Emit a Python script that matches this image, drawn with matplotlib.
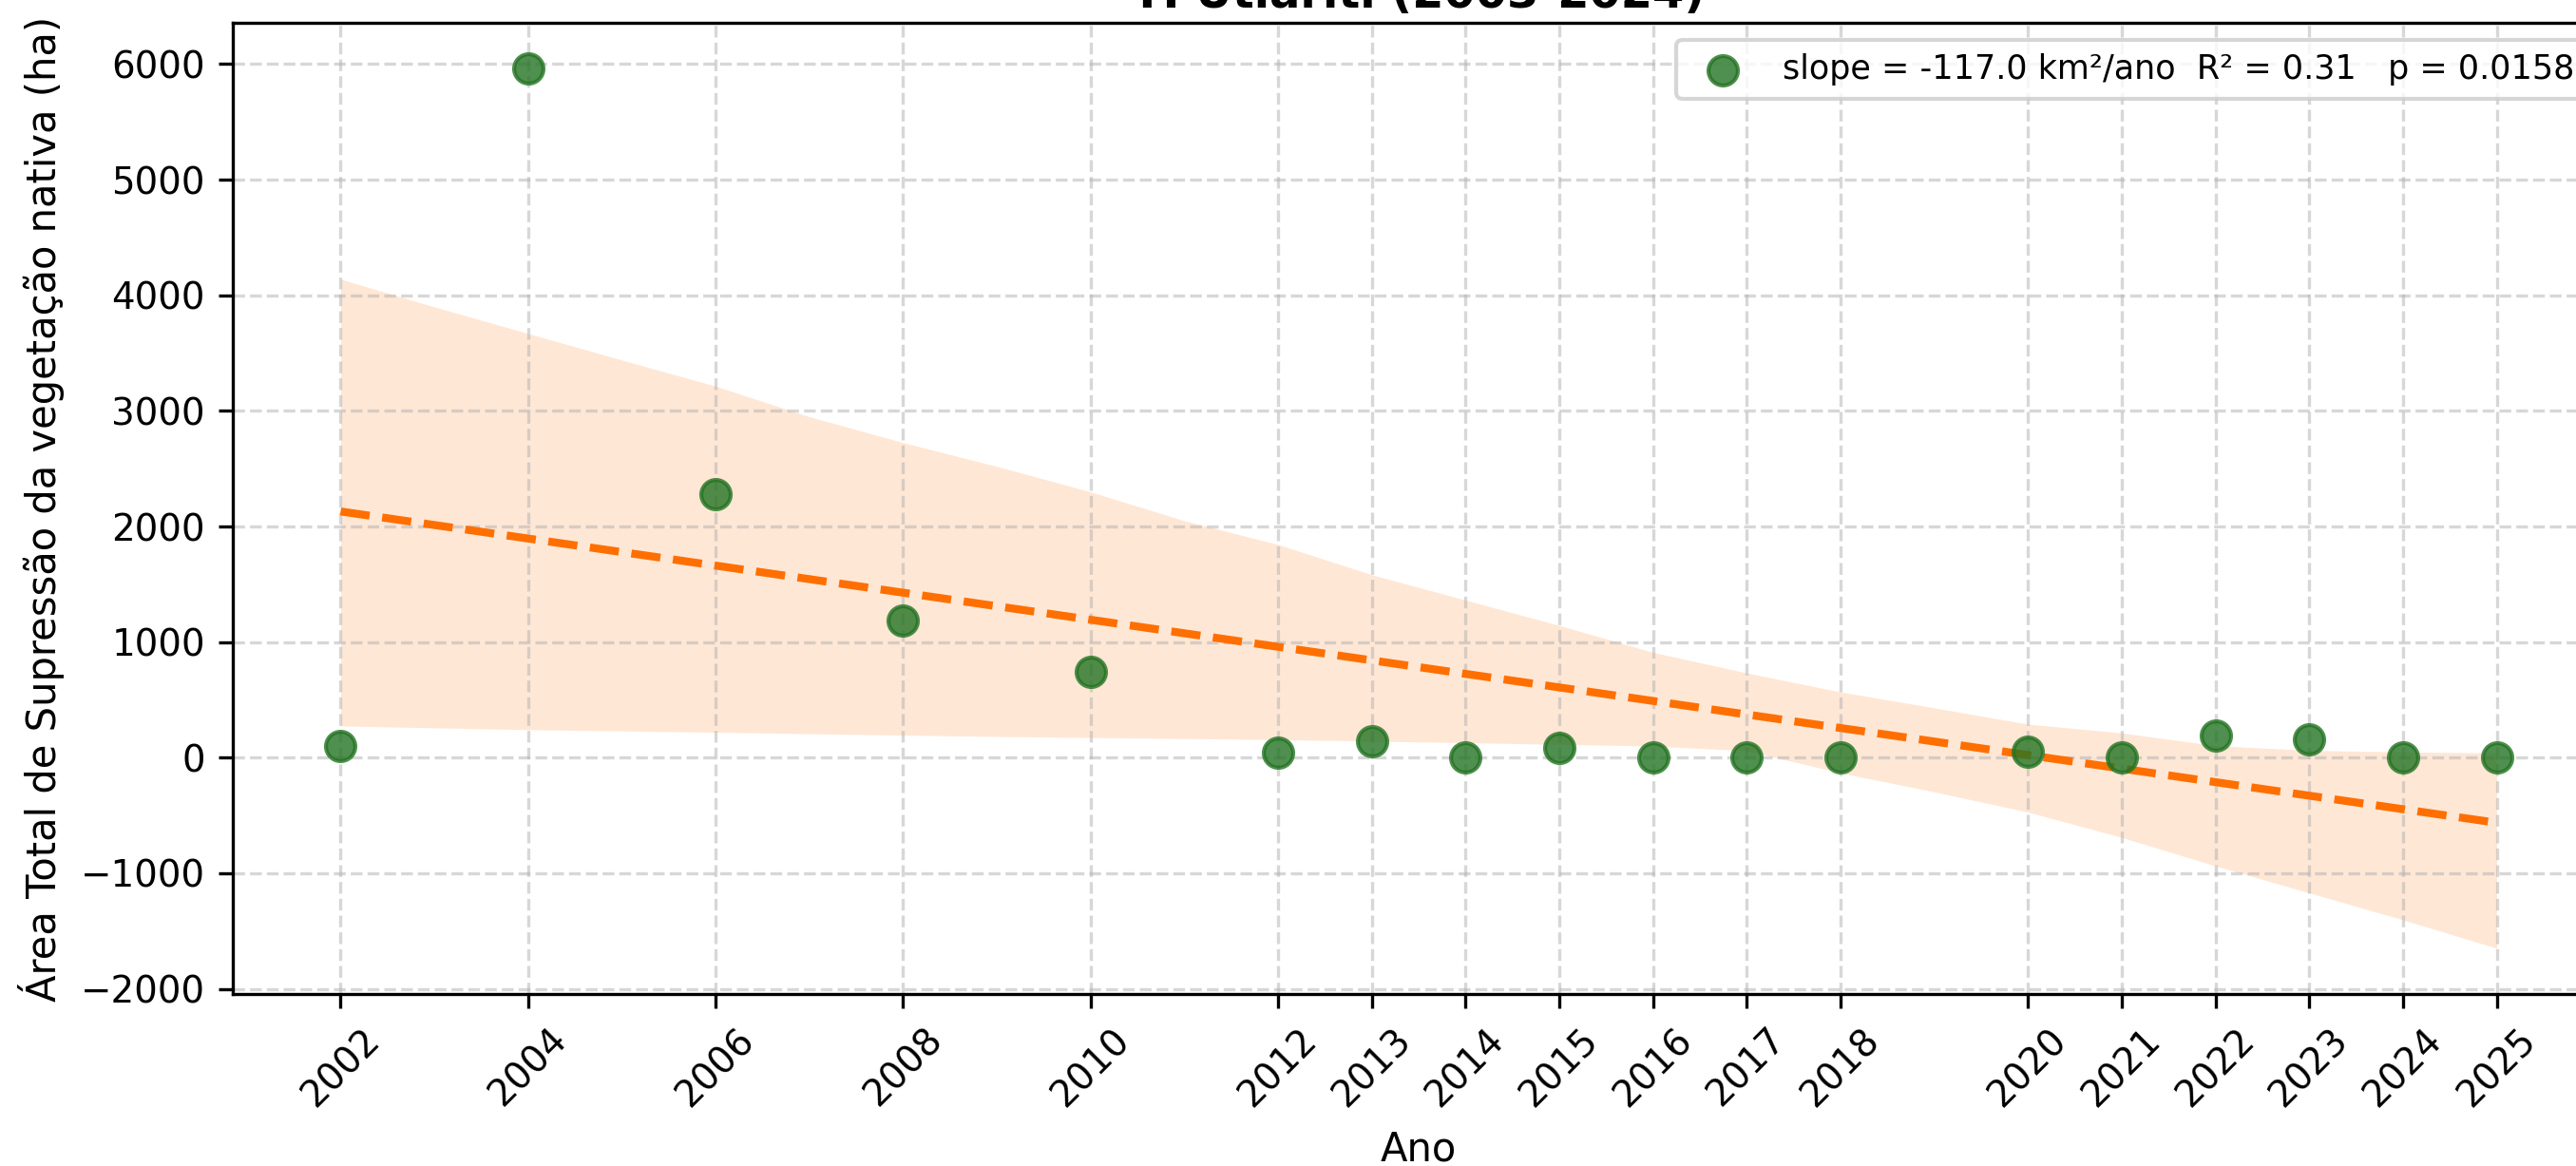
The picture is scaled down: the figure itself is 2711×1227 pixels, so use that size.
import numpy as np
import matplotlib
matplotlib.use("Agg")
import matplotlib.pyplot as plt

# anos e area suprimida (ha)
anos = [2002, 2004, 2006, 2008, 2010, 2012, 2013, 2014, 2015, 2016,
        2017, 2018, 2020, 2021, 2022, 2023, 2024, 2025]
area = [100, 5960, 2280, 1190, 740, 40, 140, 0, 86, 0,
        0, 0, 50, 0, 190, 160, 0, 0]

# faixa de confianca
ic_anos = list(range(2002, 2026))
ic_sup = [4140, 3900, 3670, 3440, 3214, 2950, 2726, 2520, 2300, 2050, 1844, 1583,
          1363, 1144, 911, 733, 568, 431, 290, 214, 104, 63, 49, 41]
ic_inf = [274, 258, 242, 231, 220, 207, 195, 183, 174, 165, 156, 143,
          129, 115, 100, 60, -132, -296, -471, -690, -937, -1170, -1403, -1649]

titulo = "TI Utiariti (2003-2024)"
legenda = "slope = -117.0 km\u00b2/ano  R\u00b2 = 0.31   p = 0.0158"

verde = "#237323"
laranja = "#ff6f00"

W, H, DPI = 2711, 1227, 300
fig = plt.figure(figsize=(W / DPI, H / DPI), dpi=DPI)
ax = fig.add_axes([245 / W, 1 - 1046 / H, (2741 - 245) / W, (1046 - 24.3) / H])

ax.fill_between(ic_anos, ic_inf, ic_sup, color=laranja, alpha=0.16, linewidth=0)

coef = np.polyfit(anos, area, 1)
xs = np.array([anos[0], anos[-1]])
ax.plot(xs, np.polyval(coef, xs), "--", color=laranja, linewidth=2)

ax.scatter(anos, area, s=55, color=verde, alpha=0.8, edgecolors=verde,
           linewidths=1, label=legenda, zorder=3)

ax.set_xlim(2000.85, 2026.15)
ax.set_ylim(-2045, 6355)
ax.set_xticks(anos)
ax.set_xticklabels([str(a) for a in anos], rotation=45, fontsize=9.3)
ax.set_yticks(range(-2000, 6001, 1000))
ax.tick_params(axis="y", labelsize=9.3)
ax.grid(True, linestyle="--", alpha=0.5)

ax.set_xlabel("Ano", fontsize=10)
ax.set_ylabel("\u00c1rea Total de Supress\u00e3o da vegeta\u00e7\u00e3o nativa (ha)", fontsize=10)
ax.set_title(titulo, fontsize=11.5, fontweight="bold", pad=3.8)
ax.legend(loc="upper right", fontsize=8.4)

fig.savefig("out.png", dpi=DPI)
